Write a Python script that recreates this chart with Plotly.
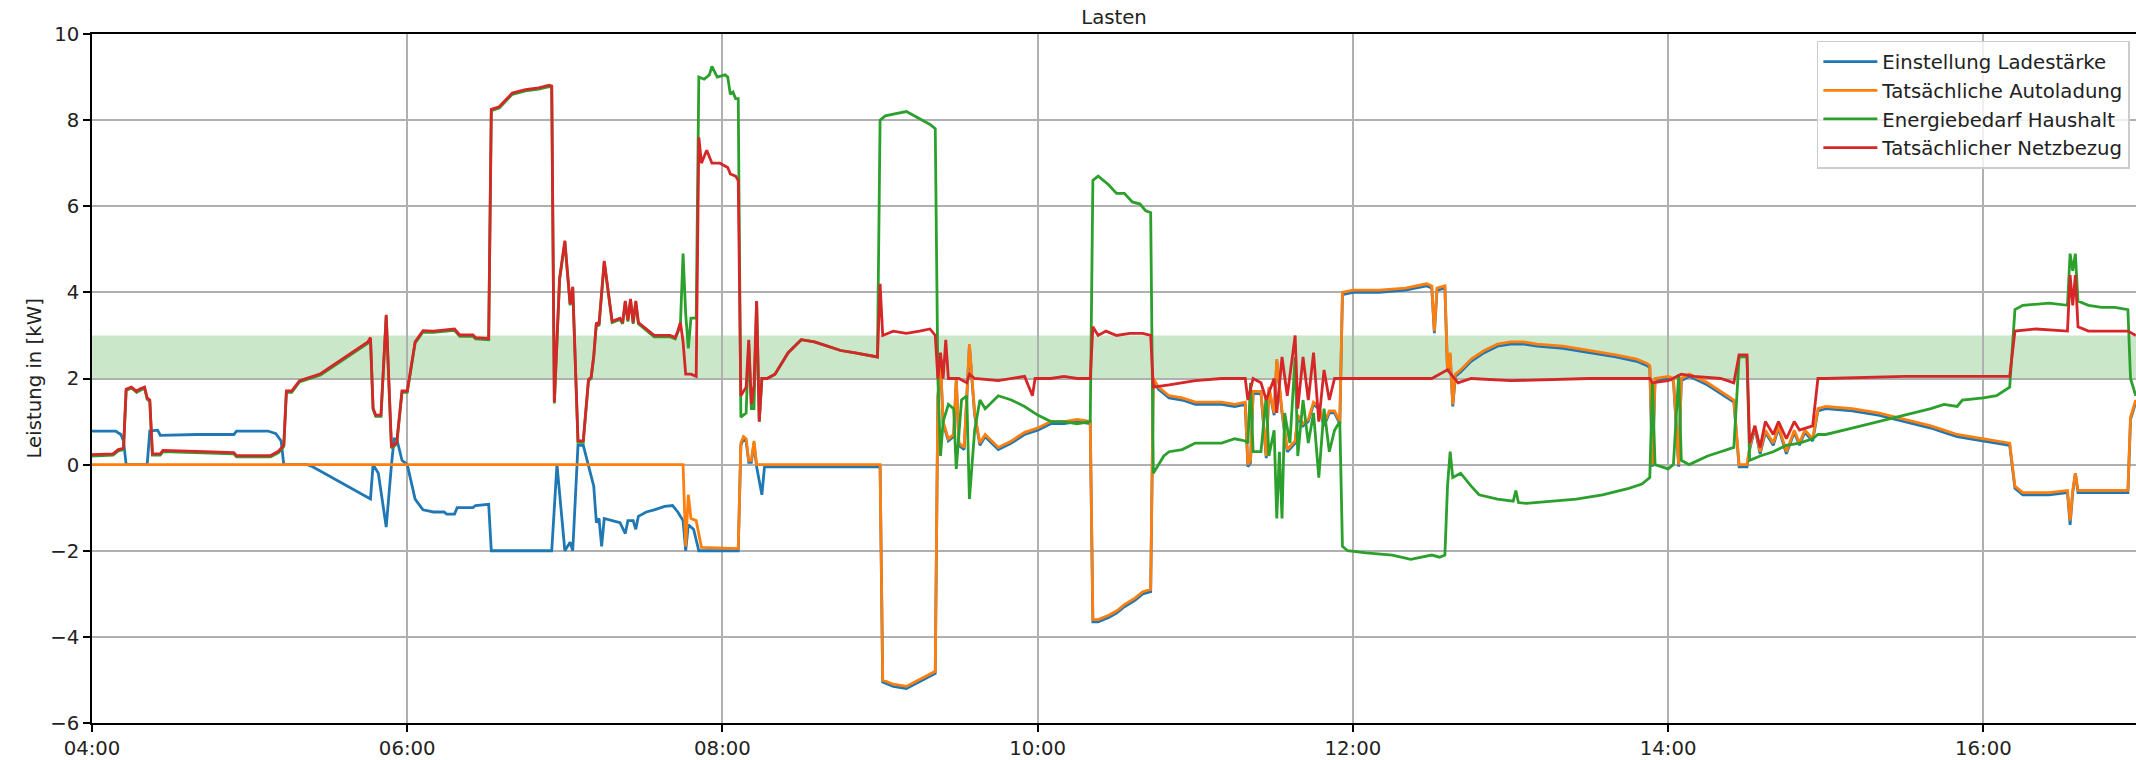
import plotly.graph_objects as go
import pandas as pd

DAY = "2023-06-01 "

# ---------------- data ----------------
blue_t = ["04:00","04:09","04:11","04:12","04:13","04:21","04:22","04:25","04:26","04:40","04:54","04:55","05:07","05:10","05:12","05:13",
          "05:22","05:24","05:46","05:47","05:49","05:52","05:54","05:55","05:56","05:58","06:00","06:03","06:06","06:10","06:14","06:15",
          "06:18","06:19","06:25","06:26","06:31","06:32","06:55","06:57","07:00","07:02","07:03","07:05","07:07","07:09","07:11","07:12",
          "07:13","07:14","07:15","07:18","07:21","07:23","07:24","07:26","07:27","07:28","07:31","07:34","07:38","07:41","07:43","07:45",
          "07:46","07:47","07:49","07:51","08:06","08:07","08:08","08:09","08:10","08:11","08:12","08:13","08:15","08:16","09:00","09:01",
          "09:05","09:10","09:13","09:16","09:19","09:21","09:22","09:23","09:24","09:26","09:28","09:29","09:30","09:32","09:34","09:36",
          "09:38","09:40","09:45","09:50","09:55","10:00","10:05","10:10","10:15","10:20","10:21","10:23","10:27","10:30","10:33","10:37",
          "10:40","10:43","10:44","10:46","10:50","10:55","11:00","11:10","11:15","11:19","11:20","11:21","11:22","11:25","11:27","11:28",
          "11:30","11:31","11:33","11:35","11:38","11:39","11:41","11:43","11:45","11:47","11:49","11:51","11:53","11:55","11:56","12:00",
          "12:10","12:20","12:28","12:30","12:31","12:32","12:35","12:36","12:37","12:38","12:39","12:41","12:45","12:50","12:55","13:00",
          "13:05","13:10","13:20","13:30","13:40","13:48","13:52","13:53","13:54","13:55","14:00","14:02","14:04","14:05","14:08","14:15",
          "14:20","14:25","14:27","14:30","14:31","14:33","14:35","14:37","14:40","14:42","14:45","14:48","14:50","14:52","14:55","14:57",
          "15:00","15:10","15:20","15:30","15:40","15:45","15:50","15:55","16:00","16:05","16:10","16:12","16:15","16:25","16:32","16:33",
          "16:34","16:35","16:36","16:45","16:55","16:56","16:58"]
blue_v = [0.78,0.78,0.70,0.55,0.0,0.0,0.78,0.80,0.68,0.70,0.70,0.78,0.78,0.72,0.55,0.0,
          0.0,-0.05,-0.80,0.0,-0.2,-1.45,0.0,0.60,0.60,0.10,0.0,-0.80,-1.05,-1.10,-1.10,-1.15,
          -1.15,-1.0,-1.0,-0.95,-0.92,-2.0,-2.0,0.0,-2.0,-1.8,-2.0,0.45,0.45,0.0,-0.5,-1.35,
          -1.25,-1.9,-1.25,-1.3,-1.35,-1.6,-1.3,-1.3,-1.5,-1.2,-1.1,-1.05,-0.97,-0.95,-1.1,-1.3,
          -2.0,-1.4,-1.5,-2.0,-2.0,0.45,0.6,0.55,0.05,0.05,0.5,-0.05,-0.7,-0.05,-0.05,-5.05,
          -5.15,-5.2,-5.1,-5.0,-4.9,-4.85,1.55,2.35,0.95,0.55,0.65,1.95,0.45,0.35,2.75,1.15,
          0.45,0.65,0.35,0.5,0.7,0.8,0.95,0.95,1.0,0.95,-3.65,-3.65,-3.55,-3.45,-3.3,-3.15,
          -3.0,-2.95,1.95,1.75,1.55,1.5,1.4,1.4,1.35,1.4,-0.05,0.05,1.65,1.65,0.15,1.75,
          1.15,2.4,1.2,0.3,0.5,1.1,0.9,1.0,1.4,1.3,0.9,1.2,1.2,0.95,3.95,4.0,
          4.0,4.05,4.15,4.1,3.05,4.05,4.1,2.15,2.55,1.35,2.05,2.15,2.4,2.6,2.75,2.8,
          2.8,2.75,2.7,2.6,2.5,2.4,2.3,2.25,-0.05,1.95,2.0,1.95,-0.05,1.95,2.05,1.85,
          1.65,1.45,-0.05,-0.05,0.35,0.85,0.25,0.75,0.45,0.85,0.25,0.75,0.45,0.75,0.55,1.25,
          1.3,1.25,1.15,1.0,0.85,0.75,0.65,0.6,0.55,0.5,0.45,-0.55,-0.7,-0.7,-0.65,-1.4,
          -0.65,-0.2,-0.65,-0.65,-0.65,1.05,1.45]

orange_t = ["04:00","07:45","07:46","07:47","07:48","07:50","07:52","08:06","08:07","08:08","08:09","08:10","08:11","08:12","08:13","09:00",
            "09:01","09:05","09:10","09:13","09:16","09:19","09:21","09:22","09:23","09:24","09:26","09:28","09:29","09:30","09:32","09:34",
            "09:36","09:38","09:40","09:45","09:50","09:55","10:00","10:05","10:10","10:15","10:20","10:21","10:23","10:27","10:30","10:33",
            "10:37","10:40","10:43","10:44","10:46","10:50","10:55","11:00","11:10","11:15","11:19","11:20","11:21","11:22","11:25","11:27",
            "11:28","11:30","11:31","11:33","11:35","11:38","11:39","11:41","11:43","11:45","11:47","11:49","11:51","11:53","11:55","11:56",
            "12:00","12:10","12:20","12:28","12:30","12:31","12:32","12:35","12:36","12:37","12:38","12:39","12:41","12:45","12:50","12:55",
            "13:00","13:05","13:10","13:20","13:30","13:40","13:48","13:52","13:53","13:54","13:55","14:00","14:02","14:04","14:05","14:08",
            "14:15","14:20","14:25","14:27","14:30","14:31","14:33","14:35","14:37","14:40","14:42","14:45","14:48","14:50","14:52","14:55",
            "14:57","15:00","15:10","15:20","15:30","15:40","15:45","15:50","15:55","16:00","16:05","16:10","16:12","16:15","16:25","16:32",
            "16:33","16:34","16:35","16:36","16:45","16:55","16:56","16:58"]
orange_v = [0.0,0.0,-1.9,-0.7,-1.25,-1.3,-1.92,-1.95,0.5,0.65,0.6,0.1,0.1,0.55,0.0,0.0,
            -5.0,-5.1,-5.15,-5.05,-4.95,-4.85,-4.8,1.6,2.4,1.0,0.6,0.7,2.0,0.5,0.4,2.8,
            1.2,0.5,0.7,0.4,0.55,0.75,0.85,1.0,1.0,1.05,1.0,-3.6,-3.6,-3.5,-3.4,-3.25,
            -3.1,-2.95,-2.9,2.0,1.8,1.6,1.55,1.45,1.45,1.4,1.45,0.0,0.1,1.7,1.7,0.2,
            1.8,1.2,2.45,1.25,0.35,0.55,1.15,0.95,1.05,1.45,1.35,0.95,1.25,1.25,1.0,4.0,
            4.05,4.05,4.1,4.2,4.15,3.1,4.1,4.15,2.2,2.6,1.4,2.1,2.2,2.45,2.65,2.8,
            2.85,2.85,2.8,2.75,2.65,2.55,2.45,2.35,2.3,0.0,2.0,2.05,2.0,0.0,2.0,2.1,
            1.9,1.7,1.5,0.0,0.0,0.4,0.9,0.3,0.8,0.5,0.9,0.3,0.8,0.5,0.8,0.6,
            1.3,1.35,1.3,1.2,1.05,0.9,0.8,0.7,0.65,0.6,0.55,0.5,-0.5,-0.65,-0.65,-0.6,
            -1.3,-0.6,-0.2,-0.6,-0.6,-0.6,1.1,1.5]

green_t = ["04:00","04:08","04:10","04:12","04:13","04:15","04:17","04:18","04:20","04:21","04:22","04:23","04:26","04:27","04:40","04:54",
           "04:55","05:08","05:11","05:13","05:14","05:16","05:19","05:24","05:27","05:45","05:46","05:47","05:48","05:50","05:52","05:54",
           "05:56","05:58","06:00","06:03","06:06","06:10","06:12","06:18","06:20","06:25","06:26","06:31","06:32","06:35","06:40","06:45",
           "06:50","06:54","06:55","06:56","06:58","07:00","07:02","07:03","07:05","07:07","07:09","07:10","07:11","07:12","07:13","07:15",
           "07:18","07:21","07:22","07:23","07:24","07:25","07:26","07:27","07:28","07:30","07:32","07:34","07:40","07:42","07:43","07:44",
           "07:45","07:46","07:47","07:48","07:50","07:51","07:53","07:55","07:56","07:58","08:01","08:02","08:03","08:04","08:05","08:06",
           "08:07","08:09","08:10","08:11","08:12","08:13","08:14","08:15","08:17","08:20","08:25","08:30","08:35","08:40","08:45","08:50",
           "08:55","08:59","09:00","09:02","09:06","09:10","09:13","09:16","09:19","09:21","09:22","09:23","09:24","09:26","09:28","09:29",
           "09:31","09:33","09:34","09:36","09:38","09:40","09:45","09:50","09:55","10:00","10:05","10:10","10:15","10:20","10:21","10:23",
           "10:27","10:30","10:33","10:36","10:39","10:41","10:43","10:44","10:46","10:48","10:50","10:55","11:00","11:10","11:15","11:19",
           "11:20","11:21","11:22","11:25","11:27","11:28","11:30","11:31","11:32","11:33","11:34","11:36","11:38","11:39","11:41","11:43",
           "11:45","11:47","11:49","11:51","11:53","11:55","11:56","11:58","12:05","12:15","12:22","12:26","12:30","12:33","12:35","12:36",
           "12:37","12:38","12:41","12:45","12:48","12:55","13:01","13:02","13:03","13:06","13:15","13:25","13:35","13:45","13:50","13:53",
           "13:54","13:55","14:00","14:02","14:04","14:05","14:08","14:15","14:20","14:25","14:27","14:30","14:31","14:35","14:40","14:45",
           "14:50","14:55","14:57","15:00","15:10","15:20","15:30","15:40","15:45","15:50","15:52","16:00","16:05","16:10","16:12","16:15",
           "16:25","16:32","16:33","16:34","16:35","16:36","16:40","16:45","16:50","16:55","16:56","16:58"]
green_v = [0.2,0.22,0.32,0.35,1.72,1.78,1.68,1.72,1.78,1.52,1.47,0.22,0.22,0.3,0.28,0.25,
           0.18,0.18,0.28,0.42,1.68,1.68,1.92,2.02,2.08,2.82,2.92,1.28,1.12,1.12,3.45,0.38,
           0.48,1.68,1.68,2.82,3.08,3.07,3.08,3.12,2.98,2.98,2.92,2.9,8.22,8.28,8.6,8.68,
           8.72,8.78,8.76,1.42,4.3,5.17,3.7,4.1,0.52,0.52,1.95,2.0,2.5,3.27,3.22,4.7,
           3.3,3.37,3.27,3.77,3.32,3.82,3.27,3.77,3.27,3.17,3.07,2.97,2.97,2.92,3.07,3.27,
           4.9,3.5,2.7,3.4,3.4,9.0,8.95,9.05,9.25,9.0,9.05,9.0,8.6,8.65,8.5,8.5,
           1.1,1.2,2.8,1.3,1.3,3.8,1.0,2.0,2.0,2.1,2.6,2.9,2.85,2.75,2.65,2.6,
           2.55,2.5,8.0,8.1,8.15,8.2,8.1,8.0,7.9,7.8,2.0,0.2,1.0,1.4,1.3,-0.1,
           1.5,1.6,-0.8,0.8,1.5,1.3,1.6,1.5,1.35,1.15,1.0,1.0,0.95,1.0,6.6,6.7,
           6.5,6.3,6.3,6.1,6.05,5.9,5.85,-0.2,0.0,0.2,0.3,0.35,0.5,0.5,0.6,0.55,
           0.5,1.9,0.3,0.3,1.6,0.2,0.8,-1.25,0.3,-1.25,1.2,0.5,2.5,0.2,1.5,0.5,
           1.2,-0.3,1.3,0.3,0.8,1.0,-1.9,-2.0,-2.05,-2.1,-2.2,-2.15,-2.1,-2.15,-2.1,-0.5,
           0.3,-0.3,-0.2,-0.5,-0.7,-0.8,-0.85,-0.6,-0.88,-0.9,-0.85,-0.8,-0.7,-0.55,-0.45,-0.3,
           1.9,0.0,-0.1,0.0,2.1,0.1,0.0,0.2,0.3,0.4,2.5,2.5,0.1,0.2,0.3,0.45,
           0.5,0.6,0.7,0.7,0.85,1.0,1.15,1.3,1.4,1.35,1.5,1.55,1.6,1.8,3.6,3.7,
           3.75,3.7,4.9,4.5,4.9,3.8,3.7,3.65,3.65,3.6,2.0,1.6]

red_t = ["04:00","04:08","04:10","04:12","04:13","04:15","04:17","04:18","04:20","04:21","04:22","04:23","04:26","04:27","04:40","04:54",
         "04:55","05:08","05:11","05:13","05:14","05:16","05:19","05:24","05:27","05:45","05:46","05:47","05:48","05:50","05:52","05:54",
         "05:56","05:58","06:00","06:03","06:06","06:10","06:12","06:18","06:20","06:25","06:26","06:31","06:32","06:35","06:40","06:45",
         "06:50","06:54","06:55","06:56","06:58","07:00","07:02","07:03","07:05","07:07","07:09","07:10","07:11","07:12","07:13","07:15",
         "07:18","07:21","07:22","07:23","07:24","07:25","07:26","07:27","07:28","07:30","07:32","07:34","07:40","07:42","07:43","07:44",
         "07:45","07:46","07:48","07:50","07:51","07:52","07:54","07:56","07:59","08:02","08:03","08:05","08:06","08:07","08:09","08:10",
         "08:11","08:12","08:13","08:14","08:15","08:17","08:20","08:25","08:30","08:35","08:40","08:45","08:50","08:55","08:59","09:00",
         "09:01","09:05","09:10","09:15","09:19","09:21","09:22","09:23","09:24","09:25","09:26","09:30","09:33","09:34","09:36","09:45",
         "09:50","09:55","09:58","09:59","10:05","10:10","10:15","10:20","10:21","10:23","10:26","10:30","10:35","10:40","10:43","10:44",
         "10:50","11:00","11:10","11:19","11:20","11:22","11:25","11:27","11:30","11:31","11:33","11:35","11:38","11:39","11:41","11:43",
         "11:45","11:47","11:49","11:51","11:53","12:00","12:30","12:36","12:40","12:45","13:00","13:30","13:53","13:54","14:00","14:05",
         "14:10","14:20","14:25","14:27","14:30","14:31","14:33","14:35","14:37","14:40","14:42","14:45","14:48","14:50","14:55","14:57",
         "15:00","15:30","16:00","16:10","16:12","16:20","16:32","16:33","16:34","16:35","16:36","16:40","16:55","16:58"]
red_v = [0.23,0.25,0.35,0.38,1.75,1.8,1.7,1.75,1.8,1.55,1.5,0.25,0.25,0.33,0.31,0.28,
         0.21,0.21,0.31,0.45,1.71,1.71,1.95,2.05,2.11,2.85,2.95,1.31,1.15,1.15,3.48,0.41,
         0.51,1.71,1.71,2.85,3.11,3.1,3.11,3.15,3.01,3.01,2.95,2.93,8.25,8.31,8.63,8.71,
         8.75,8.81,8.79,1.45,4.33,5.2,3.73,4.13,0.55,0.55,1.98,2.03,2.53,3.3,3.25,4.73,
         3.33,3.4,3.3,3.8,3.35,3.85,3.3,3.8,3.3,3.2,3.1,3.0,3.0,2.95,3.1,3.3,
         2.85,2.1,2.1,2.05,7.6,7.0,7.3,7.0,7.0,6.9,6.75,6.7,6.6,1.6,1.8,2.9,
         1.4,1.85,3.8,1.0,2.0,2.0,2.1,2.6,2.9,2.85,2.75,2.65,2.6,2.55,2.5,4.2,
         3.0,3.1,3.05,3.1,3.15,3.0,2.0,2.6,2.0,2.9,2.0,2.0,1.9,2.1,2.0,1.95,
         2.0,2.05,1.6,2.0,2.0,2.05,2.0,2.0,3.2,3.0,3.1,3.0,3.05,3.05,3.0,1.8,
         1.85,1.95,2.0,2.0,1.5,2.0,1.9,1.5,2.0,1.2,2.5,1.6,3.0,1.3,2.5,1.5,
         2.6,1.0,2.2,1.5,2.0,2.0,2.0,2.2,1.9,2.0,1.95,2.0,2.0,1.9,1.95,2.1,
         2.05,2.0,1.9,2.55,2.55,0.5,0.9,0.4,1.0,0.7,1.0,0.6,1.0,0.8,0.9,2.0,
         2.0,2.05,2.05,2.05,3.1,3.15,3.1,4.4,3.7,4.4,3.2,3.1,3.1,3.0]

series = [
    ("Einstellung Ladestärke", blue_t, blue_v, "#1f77b4"),
    ("Tatsächliche Autoladung", orange_t, orange_v, "#ff7f0e"),
    ("Energiebedarf Haushalt", green_t, green_v, "#2ca02c"),
    ("Tatsächlicher Netzbezug", red_t, red_v, "#d62728"),
]

FONT = "DejaVu Sans"
FS = 19.7

fig = go.Figure()
for name, t, v, col in series:
    fig.add_trace(go.Scatter(
        x=pd.to_datetime([DAY + s for s in t]), y=v, mode="lines", name=name,
        line=dict(color=col, width=2.8),
    ))

# green target band 2..3 kW
fig.add_shape(type="rect", xref="paper", x0=0, x1=1, yref="y", y0=2, y1=3,
              fillcolor="rgba(44,160,44,0.25)", line=dict(width=0), layer="below")

W, H = 2136, 760
L, T, B = 92, 33.5, 32.3
fig.update_layout(
    width=W, height=H,
    margin=dict(l=L, r=0, t=T, b=B, pad=0),
    paper_bgcolor="white", plot_bgcolor="white",
    font=dict(family=FONT, size=FS, color="#222222"),
    title=dict(text="Lasten", x=(L + (W - L) / 2) / W, xanchor="center",
               y=1 - 17 / H, yanchor="middle", font=dict(size=FS, color="#222222")),
    showlegend=True,
    legend=dict(x=0.997, y=0.99, xanchor="right", yanchor="top",
                bgcolor="rgba(255,255,255,0.8)", bordercolor="#cccccc", borderwidth=1.5,
                font=dict(size=FS, color="#222222"), tracegroupgap=0, itemwidth=54),
)
fig.update_xaxes(
    type="date",
    range=[DAY + "04:00:00", DAY + "16:58:05"],
    dtick=2 * 3600 * 1000, tick0=DAY + "04:00:00", tickformat="%H:%M",
    showgrid=True, gridcolor="#b0b0b0", gridwidth=1.5,
    showline=True, linecolor="black", linewidth=1.5, mirror=True,
    ticks="outside", ticklen=7, tickwidth=1.5, tickcolor="black",
    tickfont=dict(size=FS, color="#222222"), zeroline=False,
)
fig.update_yaxes(
    range=[-6, 10], dtick=2, tick0=0,
    showgrid=True, gridcolor="#b0b0b0", gridwidth=1.5,
    showline=True, linecolor="black", linewidth=1.5, mirror=False,
    ticks="outside", ticklen=7, tickwidth=1.5, tickcolor="black",
    tickfont=dict(size=FS, color="#222222"), zeroline=False,
)
fig.add_annotation(text="Leistung in [kW]", textangle=-90, xref="paper", yref="paper",
                   x=(34 - L) / (W - L), y=0.5, xanchor="center", yanchor="middle",
                   showarrow=False, font=dict(size=FS, color="#222222"))

fig.write_html(
    "out.html",
    config={"displayModeBar": False},
    post_script="document.body.style.margin='0px';document.body.style.padding='0px';"
                "document.documentElement.style.overflow='hidden';",
)
